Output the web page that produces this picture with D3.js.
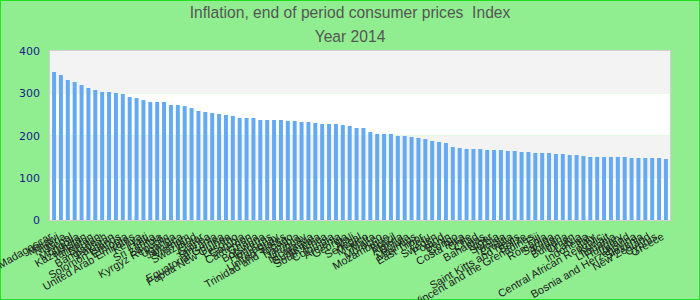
<!DOCTYPE html>
<html lang="en">
<head>
  <meta charset="utf-8">
  <title>Inflation, end of period consumer prices Index</title>
  <script src="https://d3js.org/d3.v7.min.js"></script>
  <style>
    body { margin: 0; }
    svg { display: block; }
  </style>
</head>
<body>
  <svg id="chart" width="700" height="300"></svg>
  <script>
    const titleLines = ["Inflation, end of period consumer prices  Index", "Year 2014"];

    const countries = [
      "Madagascar", "Malawi", "Nigeria", "Nepal", "Mongolia", "Kazakhstan", "Tajikistan", "Bhutan",
      "Bangladesh", "Pakistan", "Solomon Islands", "Ethiopia", "United Arab Emirates", "Kenya", "Haiti",
      "Sri Lanka", "Zambia", "Kyrgyz Republic", "Uganda", "Jamaica", "Vietnam", "Swaziland", "Qatar",
      "Guinea", "Tanzania", "Equatorial Guinea", "Papua New Guinea", "Lesotho", "Gambia", "Cameroon",
      "Ghana", "Botswana", "Honduras", "Paraguay", "United States", "Trinidad and Tobago", "Namibia",
      "Uruguay", "Nicaragua", "Guatemala", "South Africa", "Colombia", "Armenia", "Georgia", "Mali",
      "Senegal", "Mexico", "Malta", "Morocco", "Mozambique", "Brazil", "Algeria", "Bolivia", "Mauritius",
      "East Timor", "Peru", "Sweden", "Poland", "Benin", "Congo", "Costa Rica", "Chile", "Chad", "Bahamas",
      "Niger", "Serbia", "Tunisia", "Croatia", "Saint Kitts and Nevis", "Belize",
      "Saint Vincent and the Grenadines", "Fiji", "Romania", "Samoa", "Jordan", "Bulgaria", "Oman",
      "Latvia", "Indonesia", "Italy", "Central African Republic", "Kuwait", "Lithuania", "Hungary",
      "Ireland", "Bosnia and Herzegovina", "Slovenia", "New Zealand", "Cyprus", "Greece"
    ];

    const values = [
      350.3, 343.2, 331.4, 326.6, 319.5, 312.4, 307.7, 303.0, 303.0, 300.6, 298.2, 291.1, 288.8, 284.0,
      279.3, 279.3, 279.3, 272.2, 272.2, 269.8, 265.1, 258.0, 255.6, 253.3, 250.9, 248.5, 246.2, 241.4,
      241.4, 241.4, 236.7, 236.7, 236.7, 236.7, 234.3, 234.3, 231.9, 231.9, 229.6, 227.2, 227.2, 227.2,
      224.9, 222.5, 217.8, 217.8, 208.3, 203.6, 203.6, 203.6, 198.8, 198.8, 196.4, 194.1, 191.7, 187.0,
      184.6, 182.2, 172.8, 170.4, 168.0, 168.0, 168.0, 165.7, 165.7, 165.7, 163.3, 163.3, 160.9, 160.9,
      158.6, 158.6, 158.6, 156.2, 156.2, 153.8, 153.8, 151.5, 149.1, 149.1, 149.1, 149.1, 149.1, 149.1,
      146.7, 146.7, 146.7, 146.7, 146.7, 144.4
    ];

    const yTicks = [0, 100, 200, 300, 400];

    const data = countries.map((c, i) => ({ country: c, value: values[i] }));

    const width = 700, height = 300;
    const margin = { top: 51, right: 30, bottom: 80, left: 50 };

    const svg = d3.select("#chart");

    // fond + cadre
    svg.append("rect")
      .attr("x", 0.5).attr("y", 0.5)
      .attr("width", width - 1).attr("height", height - 1)
      .attr("fill", "#90ee90")
      .attr("stroke", "#22e022")
      .attr("stroke-width", 1);

    const x = d3.scaleBand()
      .domain(countries)
      .range([margin.left, width - margin.right])
      .paddingInner(0.42)
      .paddingOuter(0.3);

    const y = d3.scaleLinear()
      .domain([0, 400])
      .range([height - margin.bottom, margin.top]);

    // bandes alternées
    svg.append("g").selectAll("rect")
      .data(d3.pairs(yTicks))
      .enter().append("rect")
      .attr("x", margin.left)
      .attr("width", width - margin.right - margin.left)
      .attr("y", d => y(d[1]))
      .attr("height", d => y(d[0]) - y(d[1]))
      .attr("fill", (d, i) => i % 2 === 0 ? "#ffffff" : "#f3f3f3");

    // cadre du graphique
    svg.append("rect")
      .attr("x", margin.left - 0.5)
      .attr("y", margin.top - 0.5)
      .attr("width", width - margin.right - margin.left + 1)
      .attr("height", height - margin.bottom - margin.top + 1)
      .attr("fill", "none")
      .attr("stroke", "#d0d0d0")
      .attr("stroke-width", 1);

    // barres
    svg.append("g").selectAll("rect")
      .data(data)
      .enter().append("rect")
      .attr("x", d => x(d.country))
      .attr("width", x.bandwidth())
      .attr("y", d => y(d.value))
      .attr("height", d => y(0) - y(d.value))
      .attr("fill", "#64aaf2");

    // axe Y
    const yAxis = svg.append("g")
      .attr("transform", `translate(${margin.left - 10},0)`)
      .call(d3.axisLeft(y).tickValues(yTicks).tickSize(0).tickPadding(0));
    yAxis.select(".domain").remove();
    yAxis.selectAll("text")
      .attr("fill", "#1a1a8c")
      .style("font-family", "DejaVu Sans, sans-serif")
      .style("font-size", "11px");

    // axe X
    const xAxis = svg.append("g")
      .attr("transform", `translate(0,${height - margin.bottom})`)
      .call(d3.axisBottom(x).tickSize(0).tickPadding(0));
    xAxis.select(".domain").remove();
    xAxis.selectAll("text")
      .attr("fill", "#222")
      .style("font-family", "Liberation Sans, Arial, sans-serif")
      .style("font-size", "11px")
      .attr("text-anchor", "end")
      .attr("y", 0)
      .attr("dy", "0.7em")
      .attr("transform", `translate(-5,12) rotate(-30)`);

    // titre
    svg.append("g").selectAll("text")
      .data(titleLines)
      .enter().append("text")
      .attr("transform", (d, i) => `translate(${width / 2},${18 + i * 24}) scale(0.92,1)`)
      .attr("text-anchor", "middle")
      .attr("fill", "#555")
      .style("font-family", "Liberation Sans, Arial, sans-serif")
      .style("font-size", "17px")
      .style("white-space", "pre")
      .text(d => d);
  </script>
</body>
</html>
